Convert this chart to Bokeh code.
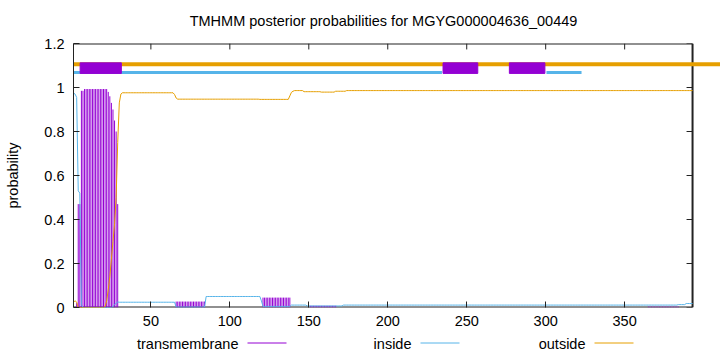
from bokeh.plotting import figure
from bokeh.models import Range1d, FixedTicker, CustomJSTickFormatter, ColumnDataSource
from bokeh.layouts import column
from bokeh.core.properties import value
from bokeh.embed import file_html
from bokeh.resources import INLINE

# ---------------- data ----------------
title_text = "TMHMM posterior probabilities for MGYG000004636_00449"

# posterior probability of transmembrane, per residue (1..393)
tm = ([0.0, 0.0, 0.02, 0.47, 0.47, 0.985, 0.985] + [0.993] * 15 +
      [0.98, 0.96, 0.93, 0.90, 0.85, 0.80, 0.47] + [0.0] * 36 +
      [0.027] * 19 + [0.0] * 36 + [0.045] * 18 + [0.0] * 12 +
      [0.008] * 17 + [0.0] * 197 + [0.004] * 20 + [0.0] * 9)

inside = ([0.975, 0.97, 0.955, 0.53, 0.52, 0.012] + [0.0] * 19 +
          [0.005, 0.012, 0.02, 0.025] + [0.024] * 36 + [0.002] * 19 +
          [0.05] * 35 + [0.03] + [0.005] * 18 + [0.011] * 10 +
          [0.007] * 23 + [0.011] * 212 + [0.013] * 5 + [0.018] * 5)

outside = ([0.025, 0.03, 0.025, 0.0] + [0.0] * 16 +
           [0.005, 0.03, 0.08, 0.14, 0.22, 0.30, 0.38, 0.5, 0.75, 0.93, 0.97] +
           [0.976] * 33 + [0.968, 0.952] + [0.947] * 52 + [0.946] * 19 +
           [0.962, 0.978, 0.983] + [0.986] * 6 + [0.981] * 11 +
           [0.979] * 9 + [0.983] * 7 + [0.986] * 220)

# predicted topology drawn on top
helix_start = [5.2, 235.0, 277.0]
helix_end = [31.3, 257.0, 299.5]
inside_seg_start = [1.0, 300.5]
inside_seg_end = [234.3, 322.7]

x_ticks = [50, 100, 150, 200, 250, 300, 350]
y_ticks = [0.0, 0.2, 0.4, 0.6, 0.8, 1.0, 1.2]
legend_names = ["transmembrane", "inside", "outside"]

# ---------------- styling ----------------
FONT = "Liberation Sans"
FS = "14.5px"
PURPLE = "#9400d3"
BLUE = "#56b4e9"
ORANGE = "#e69f00"
BORDER = "#222222"
W = 720
LEFT = 73

n = len(tm)
residues = list(range(1, n + 1))
x_end = 410.7  # frame runs past the last residue, as in the reference


def bare_fig(h):
    # frame spans canvas pixels LEFT..W so x is given in canvas pixels
    f = figure(width=W, height=h, x_range=Range1d(LEFT, W), y_range=Range1d(0, h),
               x_axis_location=None, y_axis_location=None,
               min_border_left=LEFT, min_border_right=0, min_border_top=0, min_border_bottom=0,
               output_backend="svg", toolbar_location=None)
    f.grid.visible = False
    f.outline_line_color = None
    return f


# ---- header with the title ----
head = bare_fig(30)
head.text(x=[383], y=[10], text=[title_text], text_align="center", text_baseline="middle",
          text_font=value(FONT), text_font_size=value(FS), text_color="black")

# ---- main plot ----
p = figure(width=W, height=304, x_range=Range1d(1, x_end), y_range=Range1d(0, 1.2),
           min_border_left=LEFT, min_border_right=0, min_border_top=13, min_border_bottom=27,
           output_backend="svg", toolbar_location=None)
p.outline_line_color = None
p.xgrid.visible = False
p.ygrid.visible = False

xa = p.xaxis[0]
xa.ticker = FixedTicker(ticks=x_ticks)
xa.axis_line_color = None
xa.major_tick_in = 6
xa.major_tick_out = 0
xa.major_tick_line_color = BORDER
xa.minor_tick_line_color = None
xa.major_label_standoff = 8
xa.major_label_text_font = FONT
xa.major_label_text_font_size = FS
xa.major_label_text_color = "black"

ya = p.yaxis[0]
ya.ticker = FixedTicker(ticks=y_ticks)
ya.formatter = CustomJSTickFormatter(code="return String(Math.round(tick * 10) / 10);")
ya.axis_line_color = BORDER
ya.major_tick_in = 6
ya.major_tick_out = 0
ya.major_tick_line_color = BORDER
ya.minor_tick_line_color = None
ya.major_label_standoff = 9
ya.major_label_text_font = FONT
ya.major_label_text_font_size = FS
ya.major_label_text_color = "black"
ya.axis_label = "probability"
ya.axis_label_text_font = FONT
ya.axis_label_text_font_size = FS
ya.axis_label_text_font_style = "normal"
ya.axis_label_text_color = "black"
ya.axis_label_standoff = 20

# border (bottom, top, right) ending at the last residue
p.segment(x0=[1, 1, n], y0=[0, 1.2, 0], x1=[n, n, n], y1=[0, 1.2, 1.2],
          line_color=BORDER, line_width=2)
# mirrored ticks on the right and on top
tick_len_x = 3.8
tick_len_y = 0.027
p.segment(x0=[n - tick_len_x] * len(y_ticks), y0=y_ticks, x1=[n] * len(y_ticks), y1=y_ticks,
          line_color=BORDER, line_width=1)
p.segment(x0=x_ticks, y0=[1.2] * len(x_ticks), x1=x_ticks, y1=[1.2 - tick_len_y] * len(x_ticks),
          line_color=BORDER, line_width=1)

# posterior curves
p.segment(x0=residues, y0=[0] * n, x1=residues, y1=tm, line_color=PURPLE, line_width=1)
p.line(residues, inside, line_color=BLUE, line_width=1)
p.line(residues, outside, line_color=ORANGE, line_width=1)

# topology bars
p.segment(x0=[1], y0=[1.106], x1=[x_end], y1=[1.106], line_color=ORANGE, line_width=4)
p.segment(x0=inside_seg_start, y0=[1.068] * len(inside_seg_start), x1=inside_seg_end,
          y1=[1.068] * len(inside_seg_end), line_color=BLUE, line_width=3)
p.quad(left=helix_start, right=helix_end, bottom=[1.064] * len(helix_start),
       top=[1.112] * len(helix_start), fill_color=PURPLE, line_color=PURPLE, line_width=1)

# ---- key below: text then sample line ----
key = bare_fig(18)
legend_text_right = [238, 411, 585]
key_src = ColumnDataSource(dict(
    name=legend_names,
    xr=legend_text_right,
    x0=[v + 9 for v in legend_text_right],
    x1=[v + 48 for v in legend_text_right],
    y=[9, 9, 9],
    yl=[9.5, 9.5, 9.5],
    color=[PURPLE, BLUE, ORANGE],
))
key.text(x="xr", y="y", text="name", source=key_src, text_align="right",
         text_baseline="middle", text_font=value(FONT), text_font_size=value(FS),
         text_color="black")
key.segment(x0="x0", y0="yl", x1="x1", y1="yl", source=key_src, line_color="color",
            line_width=1)

layout = column(head, p, key, spacing=0)
open("out.html", "w").write(file_html(layout, INLINE))
